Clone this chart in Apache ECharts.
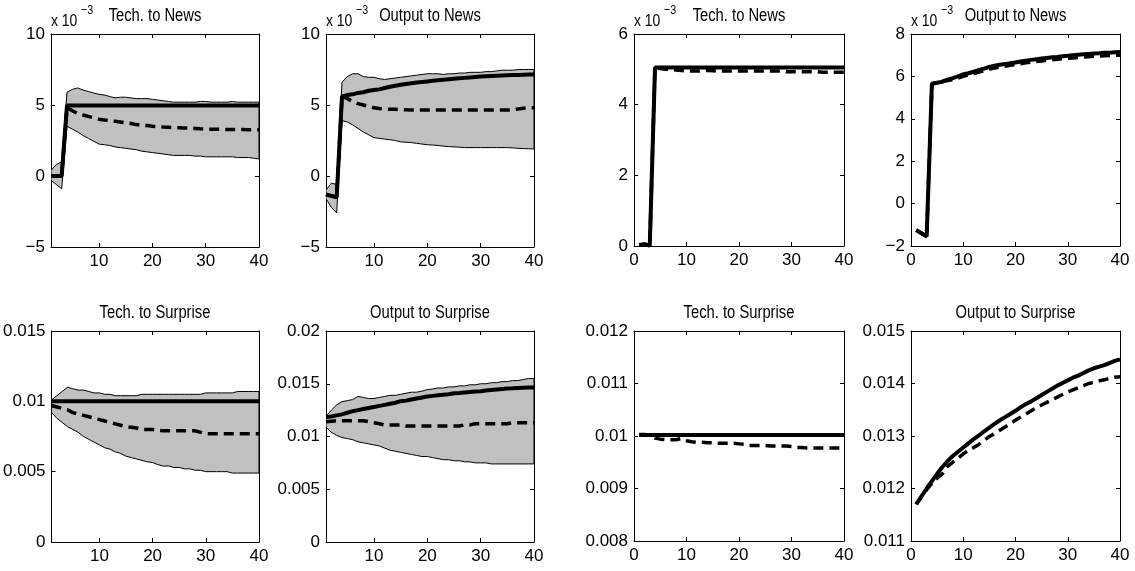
<!DOCTYPE html>
<html>
<head>
<meta charset="utf-8">
<script src="https://cdn.jsdelivr.net/npm/echarts@6/dist/echarts.min.js"></script>
<style>
  html, body { margin: 0; padding: 0; background: #fff; }
  #chart { width: 1135px; height: 571px; }
</style>
</head>
<body>
<div id="chart"></div>
<script>
// Impulse-response horizons (quarters)
const horizon = [1, 2, 3, 4, 5, 6, 7, 8, 9, 10, 11, 12, 13, 14, 15, 16, 17, 18, 19, 20,
                 21, 22, 23, 24, 25, 26, 27, 28, 29, 30, 31, 32, 33, 34, 35, 36, 37, 38, 39, 40];

// ---- Estimated responses with bands (values in units of 1e-3 for news shocks) ----
const techNewsTrue   = [0, 0, 0, 4.97, 4.97, 4.97, 4.97, 4.97, 4.97, 4.97, 4.97, 4.97, 4.97, 4.97, 4.97, 4.97, 4.97, 4.97, 4.97, 4.97,
                        4.97, 4.97, 4.97, 4.97, 4.97, 4.97, 4.97, 4.97, 4.97, 4.97, 4.97, 4.97, 4.97, 4.97, 4.97, 4.97, 4.97, 4.97, 4.97, 4.97];
const techNewsMedian = [0, 0, 0, 4.8, 4.6, 4.4, 4.3, 4.2, 4.1, 4.0, 3.95, 3.9, 3.85, 3.8, 3.75, 3.7, 3.62, 3.58, 3.55, 3.5,
                        3.48, 3.45, 3.43, 3.4, 3.4, 3.38, 3.37, 3.35, 3.32, 3.3, 3.3, 3.3, 3.29, 3.28, 3.28, 3.27, 3.27, 3.26, 3.26, 3.25];
const techNewsUpper  = [0.4, 0.8, 1.0, 5.9, 6.1, 6.2, 6.05, 5.95, 5.85, 5.75, 5.7, 5.6, 5.5, 5.55, 5.55, 5.5, 5.45, 5.45, 5.45, 5.4,
                        5.35, 5.3, 5.25, 5.2, 5.2, 5.2, 5.2, 5.2, 5.25, 5.25, 5.2, 5.2, 5.2, 5.2, 5.25, 5.2, 5.2, 5.2, 5.2, 5.2];
const techNewsLower  = [-0.3, -0.6, -0.9, 3.5, 3.3, 3.1, 2.85, 2.65, 2.45, 2.25, 2.2, 2.15, 2.05, 2.0, 1.95, 1.9, 1.85, 1.75, 1.7, 1.65,
                        1.6, 1.55, 1.5, 1.45, 1.45, 1.45, 1.45, 1.4, 1.4, 1.35, 1.35, 1.35, 1.35, 1.35, 1.35, 1.3, 1.3, 1.3, 1.25, 1.2];

const outputNewsTrue   = [-1.3, -1.4, -1.5, 5.6, 5.7, 5.75, 5.85, 5.9, 6.0, 6.05, 6.1, 6.2, 6.28, 6.35, 6.42, 6.48, 6.53, 6.58, 6.62, 6.66,
                          6.7, 6.74, 6.78, 6.82, 6.85, 6.88, 6.91, 6.94, 6.97, 7.0, 7.02, 7.04, 7.06, 7.08, 7.1, 7.11, 7.12, 7.13, 7.14, 7.15];
const outputNewsMedian = [-1.3, -1.4, -1.5, 5.6, 5.45, 5.25, 5.1, 5.0, 4.9, 4.8, 4.75, 4.72, 4.7, 4.7, 4.68, 4.66, 4.65, 4.65, 4.65, 4.65,
                          4.65, 4.65, 4.65, 4.65, 4.65, 4.65, 4.65, 4.65, 4.65, 4.65, 4.65, 4.65, 4.65, 4.65, 4.65, 4.65, 4.72, 4.77, 4.8, 4.8];
const outputNewsUpper  = [-1.0, -0.5, -0.6, 6.6, 7.0, 7.2, 7.2, 7.0, 6.95, 6.95, 6.85, 6.8, 6.85, 6.9, 6.95, 7.0, 7.05, 7.1, 7.15, 7.2,
                          7.2, 7.2, 7.15, 7.2, 7.2, 7.25, 7.25, 7.3, 7.3, 7.3, 7.35, 7.35, 7.4, 7.45, 7.45, 7.45, 7.5, 7.5, 7.5, 7.5];
const outputNewsLower  = [-1.6, -2.2, -2.6, 3.9, 3.8, 3.6, 3.35, 3.1, 2.9, 2.7, 2.65, 2.6, 2.55, 2.5, 2.4, 2.38, 2.35, 2.3, 2.25, 2.2,
                          2.18, 2.15, 2.1, 2.07, 2.05, 2.03, 2.0, 2.0, 2.0, 2.0, 2.0, 2.0, 2.0, 2.0, 2.0, 1.98, 1.95, 1.93, 1.92, 1.9];

const techSurpTrue   = [0.01, 0.01, 0.01, 0.01, 0.01, 0.01, 0.01, 0.01, 0.01, 0.01, 0.01, 0.01, 0.01, 0.01, 0.01, 0.01, 0.01, 0.01, 0.01, 0.01,
                        0.01, 0.01, 0.01, 0.01, 0.01, 0.01, 0.01, 0.01, 0.01, 0.01, 0.01, 0.01, 0.01, 0.01, 0.01, 0.01, 0.01, 0.01, 0.01, 0.01];
const techSurpMedian = [0.0097, 0.0096, 0.0095, 0.0094, 0.0092, 0.0091, 0.0090, 0.0089, 0.0088, 0.0087, 0.0086, 0.0085, 0.0084, 0.0083, 0.0082, 0.00815, 0.0081, 0.0080, 0.0080, 0.0080,
                        0.00795, 0.0079, 0.0079, 0.0079, 0.0079, 0.0079, 0.0079, 0.0079, 0.0078, 0.0077, 0.0077, 0.0077, 0.0077, 0.0077, 0.0077, 0.0077, 0.0077, 0.0077, 0.0077, 0.0077];
const techSurpUpper  = [0.0101, 0.0104, 0.0107, 0.0110, 0.0109, 0.0108, 0.0108, 0.0107, 0.0106, 0.0106, 0.0105, 0.0105, 0.0104, 0.0104, 0.0104, 0.0104, 0.0104, 0.0105, 0.0105, 0.0105,
                        0.0105, 0.0105, 0.0105, 0.0105, 0.0105, 0.0105, 0.0105, 0.0105, 0.0105, 0.0106, 0.0106, 0.0106, 0.0106, 0.0106, 0.0106, 0.0107, 0.0107, 0.0107, 0.0107, 0.0107];
const techSurpLower  = [0.0092, 0.0088, 0.0085, 0.0082, 0.0080, 0.0078, 0.0075, 0.0073, 0.0071, 0.0069, 0.0067, 0.0066, 0.0064, 0.0063, 0.0061, 0.0060, 0.0059, 0.0058, 0.0057, 0.00565,
                        0.0055, 0.0054, 0.0054, 0.0053, 0.0053, 0.0052, 0.0052, 0.0051, 0.0051, 0.0050, 0.0050, 0.0050, 0.0050, 0.0050, 0.0049, 0.0049, 0.0049, 0.0049, 0.0049, 0.0049];

const outputSurpTrue   = [0.01185, 0.0119, 0.0120, 0.0121, 0.01225, 0.0124, 0.0125, 0.0126, 0.0127, 0.0128, 0.0129, 0.0130, 0.0131, 0.0132, 0.01335, 0.0134, 0.0135, 0.0136, 0.0137, 0.0138,
                          0.01385, 0.0139, 0.01395, 0.0140, 0.0141, 0.01413, 0.01418, 0.01422, 0.01426, 0.0143, 0.01435, 0.0144, 0.01445, 0.0145, 0.01455, 0.01457, 0.0146, 0.01462, 0.01464, 0.01465];
const outputSurpMedian = [0.0114, 0.01145, 0.0115, 0.0115, 0.0115, 0.0115, 0.0115, 0.0115, 0.0114, 0.0113, 0.0112, 0.0111, 0.0111, 0.0111, 0.0111, 0.0110, 0.0110, 0.0110, 0.0110, 0.0110,
                          0.0110, 0.0110, 0.0110, 0.0110, 0.0110, 0.0110, 0.0111, 0.0111, 0.0112, 0.0112, 0.0112, 0.0112, 0.0112, 0.0112, 0.0112, 0.0113, 0.0113, 0.0113, 0.0113, 0.0113];
const outputSurpUpper  = [0.0119, 0.0125, 0.0130, 0.0133, 0.0134, 0.0135, 0.0138, 0.0137, 0.0136, 0.0136, 0.0137, 0.0138, 0.0139, 0.0139, 0.0140, 0.0141, 0.0142, 0.0142, 0.0143, 0.01445,
                          0.0145, 0.0146, 0.0146, 0.0147, 0.0147, 0.0148, 0.0148, 0.0149, 0.0149, 0.0150, 0.0150, 0.0151, 0.0151, 0.0152, 0.0152, 0.0153, 0.0153, 0.0154, 0.0155, 0.0155];
const outputSurpLower  = [0.0109, 0.0104, 0.0101, 0.0099, 0.0098, 0.0097, 0.0095, 0.0094, 0.0093, 0.0092, 0.0091, 0.0089, 0.0087, 0.0086, 0.0085, 0.0084, 0.0083, 0.0082, 0.0081, 0.0081,
                          0.0080, 0.0079, 0.0078, 0.0078, 0.0077, 0.0077, 0.0076, 0.0076, 0.0075, 0.0075, 0.0075, 0.0074, 0.0074, 0.0074, 0.0074, 0.0074, 0.0074, 0.0074, 0.0074, 0.0074];

// ---- Model-implied responses (no bands) ----
const techNewsModel   = [0.03, 0.05, 0.01, 5.05, 5.05, 5.05, 5.05, 5.05, 5.05, 5.05, 5.05, 5.05, 5.05, 5.05, 5.05, 5.05, 5.05, 5.05, 5.05, 5.05,
                         5.05, 5.05, 5.05, 5.05, 5.05, 5.05, 5.05, 5.05, 5.05, 5.05, 5.05, 5.05, 5.05, 5.05, 5.05, 5.05, 5.05, 5.05, 5.05, 5.05];
const techNewsModelAlt = [0.03, 0.05, 0.01, 5.05, 5.02, 5.0, 5.0, 4.98, 4.97, 4.95, 4.95, 4.95, 4.96, 4.97, 4.96, 4.95, 4.95, 4.95, 4.95, 4.95,
                          4.95, 4.95, 4.95, 4.95, 4.95, 4.95, 4.95, 4.95, 4.93, 4.93, 4.93, 4.93, 4.93, 4.93, 4.93, 4.92, 4.92, 4.92, 4.92, 4.92];

const outputNewsModel    = [-1.25, -1.4, -1.55, 5.65, 5.7, 5.75, 5.85, 5.92, 6.0, 6.1, 6.15, 6.22, 6.3, 6.37, 6.45, 6.5, 6.55, 6.58, 6.62, 6.66,
                            6.7, 6.74, 6.78, 6.81, 6.84, 6.87, 6.9, 6.92, 6.95, 6.97, 7.0, 7.02, 7.04, 7.06, 7.08, 7.09, 7.11, 7.12, 7.14, 7.15];
const outputNewsModelAlt = [-1.25, -1.4, -1.55, 5.65, 5.7, 5.8, 5.8, 5.85, 5.92, 6.0, 6.07, 6.13, 6.2, 6.27, 6.35, 6.4, 6.44, 6.48, 6.52, 6.56,
                            6.6, 6.64, 6.67, 6.7, 6.73, 6.76, 6.78, 6.81, 6.83, 6.85, 6.87, 6.89, 6.91, 6.93, 6.95, 6.96, 6.97, 6.98, 6.99, 7.0];

const techSurpModel    = [0.01002, 0.01002, 0.01002, 0.01002, 0.01002, 0.01002, 0.01002, 0.01002, 0.01002, 0.01002, 0.01002, 0.01002, 0.01002, 0.01002, 0.01002, 0.01002, 0.01002, 0.01002, 0.01002, 0.01002,
                          0.01002, 0.01002, 0.01002, 0.01002, 0.01002, 0.01002, 0.01002, 0.01002, 0.01002, 0.01002, 0.01002, 0.01002, 0.01002, 0.01002, 0.01002, 0.01002, 0.01002, 0.01002, 0.01002, 0.01002];
const techSurpModelAlt = [0.01003, 0.01003, 0.01001, 0.00996, 0.00994, 0.00993, 0.00993, 0.00993, 0.00995, 0.00991, 0.00989, 0.00988, 0.00988, 0.00987, 0.00987, 0.00986, 0.00986, 0.00986, 0.00986, 0.00985,
                          0.00984, 0.00982, 0.00982, 0.00982, 0.00982, 0.00981, 0.00981, 0.00981, 0.00981, 0.0098, 0.00978, 0.00978, 0.00977, 0.00977, 0.00977, 0.00977, 0.00977, 0.00977, 0.00977, 0.00977];

const outputSurpModel    = [0.0117, 0.01185, 0.012, 0.01214, 0.01228, 0.01241, 0.01252, 0.01262, 0.0127, 0.01278, 0.01286, 0.01294, 0.01301, 0.01309, 0.01316, 0.01323, 0.0133, 0.01336, 0.01342, 0.01348,
                            0.01355, 0.01361, 0.01366, 0.01372, 0.01378, 0.01384, 0.0139, 0.01396, 0.01401, 0.01406, 0.01411, 0.01415, 0.0142, 0.01425, 0.01429, 0.01432, 0.01435, 0.01439, 0.01443, 0.01446];
const outputSurpModelAlt = [0.0117, 0.01184, 0.01198, 0.0121, 0.0122, 0.01228, 0.01242, 0.0125, 0.01258, 0.01266, 0.01273, 0.01278, 0.01284, 0.01292, 0.01299, 0.01305, 0.01311, 0.01317, 0.01324, 0.0133,
                            0.01336, 0.01342, 0.01348, 0.01354, 0.01359, 0.01364, 0.01369, 0.01374, 0.01379, 0.01384, 0.01388, 0.01392, 0.01396, 0.014, 0.01402, 0.01405, 0.01407, 0.0141, 0.01412, 0.01413];

// Axis tick positions
const xTicksBanded = [10, 20, 30, 40];

// Panel layout: [left, top, width, height] in px
const panels = [
  { title: 'Tech. to News',       box: [51, 34, 208, 213],  x: [1, 40], xTicks: xTicksBanded, y: [-5, 10, 5],        scaled: true,
    lower: techNewsLower, upper: techNewsUpper, solid: techNewsTrue, dashed: techNewsMedian },
  { title: 'Output to News',      box: [326, 34, 208, 213], x: [1, 40], xTicks: xTicksBanded, y: [-5, 10, 5],        scaled: true,
    lower: outputNewsLower, upper: outputNewsUpper, solid: outputNewsTrue, dashed: outputNewsMedian },
  { title: 'Tech. to News',       box: [634, 34, 210, 212], x: [0, 40], y: [0, 6, 2],          scaled: true,
    solid: techNewsModel, dashed: techNewsModelAlt },
  { title: 'Output to News',      box: [911, 34, 209, 212], x: [0, 40], y: [-2, 8, 2],         scaled: true,
    solid: outputNewsModel, dashed: outputNewsModelAlt },
  { title: 'Tech. to Surprise',   box: [51, 331, 208, 211], x: [1, 40], xTicks: xTicksBanded, y: [0, 0.015, 0.005],
    lower: techSurpLower, upper: techSurpUpper, solid: techSurpTrue, dashed: techSurpMedian },
  { title: 'Output to Surprise',  box: [326, 331, 208, 211], x: [1, 40], xTicks: xTicksBanded, y: [0, 0.02, 0.005],
    lower: outputSurpLower, upper: outputSurpUpper, solid: outputSurpTrue, dashed: outputSurpMedian },
  { title: 'Tech. to Surprise',   box: [634, 331, 210, 210], x: [0, 40], y: [0.008, 0.012, 0.001],
    solid: techSurpModel, dashed: techSurpModelAlt },
  { title: 'Output to Surprise',  box: [911, 331, 209, 210], x: [0, 40], y: [0.011, 0.015, 0.001],
    solid: outputSurpModel, dashed: outputSurpModelAlt }
];

const FONT = "'Liberation Sans', Arial, sans-serif";
const TICK_FONT = 17;
// Titles are set in a condensed look by squeezing the text horizontally
const SQUEEZE = 0.82;

const fmtTick = v => String(+(+v).toFixed(6)).replace('-', '\u2212');

const grid = [], xAxis = [], yAxis = [], series = [], graphic = [];

function label(text, x, y, size, align) {
  return {
    type: 'text', x, y, scaleX: SQUEEZE, silent: true,
    style: {
      text, fill: '#000', font: size + 'px ' + FONT,
      align, textAlign: align, verticalAlign: 'middle', textVerticalAlign: 'middle'
    }
  };
}

panels.forEach((p, i) => {
  const [l, t, w, h] = p.box;
  grid.push({ left: l, top: t, width: w, height: h, containLabel: false });

  const tickStyle = { show: true, inside: true, length: 4, lineStyle: { color: '#000', width: 1 } };
  const lineStyle = { show: true, onZero: false, lineStyle: { color: '#000', width: 1 } };

  const xBottom = {
    gridIndex: i, type: 'value', position: 'bottom', min: p.x[0], max: p.x[1],
    axisLine: lineStyle, splitLine: { show: false },
    axisTick: Object.assign({}, tickStyle),
    axisLabel: { color: '#000', fontSize: TICK_FONT, fontFamily: FONT, margin: 6 }
  };
  const xTop = {
    gridIndex: i, type: 'value', position: 'top', min: p.x[0], max: p.x[1],
    axisLine: lineStyle, splitLine: { show: false },
    axisTick: Object.assign({}, tickStyle), axisLabel: { show: false }
  };
  if (p.xTicks) {
    xBottom.axisTick.customValues = p.xTicks;
    xBottom.axisLabel.customValues = p.xTicks;
    xTop.axisTick.customValues = p.xTicks;
  } else {
    xBottom.interval = 10;
    xTop.interval = 10;
  }
  xAxis.push(xBottom, xTop);

  yAxis.push({
    gridIndex: i, type: 'value', position: 'left', min: p.y[0], max: p.y[1], interval: p.y[2],
    axisLine: lineStyle, splitLine: { show: false }, axisTick: tickStyle,
    axisLabel: { color: '#000', fontSize: TICK_FONT, fontFamily: FONT, margin: 6, formatter: fmtTick }
  }, {
    gridIndex: i, type: 'value', position: 'right', min: p.y[0], max: p.y[1], interval: p.y[2],
    axisLine: lineStyle, splitLine: { show: false }, axisTick: tickStyle, axisLabel: { show: false }
  });

  // Panel title
  graphic.push(label(p.title, l + w / 2, t - 18, 18, 'center'));
  // Axis scale factor "x 10^-3"
  if (p.scaled) {
    graphic.push(label('x 10', l, t - 13, 17, 'left'));
    graphic.push(label('\u22123', l + 30, t - 24, 13, 'left'));
  }

  const xi = 2 * i, yi = 2 * i;

  // Shaded confidence band
  if (p.lower) {
    const lower = p.lower, upper = p.upper;
    series.push({
      type: 'custom', xAxisIndex: xi, yAxisIndex: yi, silent: true, z: 1, clip: true,
      data: horizon.map((hz, k) => [hz, lower[k], upper[k]]),
      encode: { x: 0, y: [1, 2] },
      renderItem(params, api) {
        if (params.dataIndex !== 0) return null;
        const pts = [];
        for (let k = 0; k < horizon.length; k++) pts.push(api.coord([horizon[k], upper[k]]));
        for (let k = horizon.length - 1; k >= 0; k--) pts.push(api.coord([horizon[k], lower[k]]));
        return {
          type: 'polygon', shape: { points: pts },
          style: { fill: '#c0c0c0', stroke: '#000', lineWidth: 1 }
        };
      }
    });
  }

  // Dashed response
  series.push({
    type: 'line', xAxisIndex: xi, yAxisIndex: yi, z: 3, silent: true,
    data: horizon.map((hz, k) => [hz, p.dashed[k]]),
    symbol: 'none', clip: true,
    lineStyle: { color: '#000', width: 3.5, type: [10, 6], cap: 'butt' }
  });
  // Solid response
  series.push({
    type: 'line', xAxisIndex: xi, yAxisIndex: yi, z: 4, silent: true,
    data: horizon.map((hz, k) => [hz, p.solid[k]]),
    symbol: 'none', clip: true,
    lineStyle: { color: '#000', width: 4 }
  });
});

const chart = echarts.init(document.getElementById('chart'), null, { renderer: 'canvas' });
chart.setOption({
  backgroundColor: '#fff',
  animation: false,
  grid, xAxis, yAxis, series, graphic
});
</script>
</body>
</html>
